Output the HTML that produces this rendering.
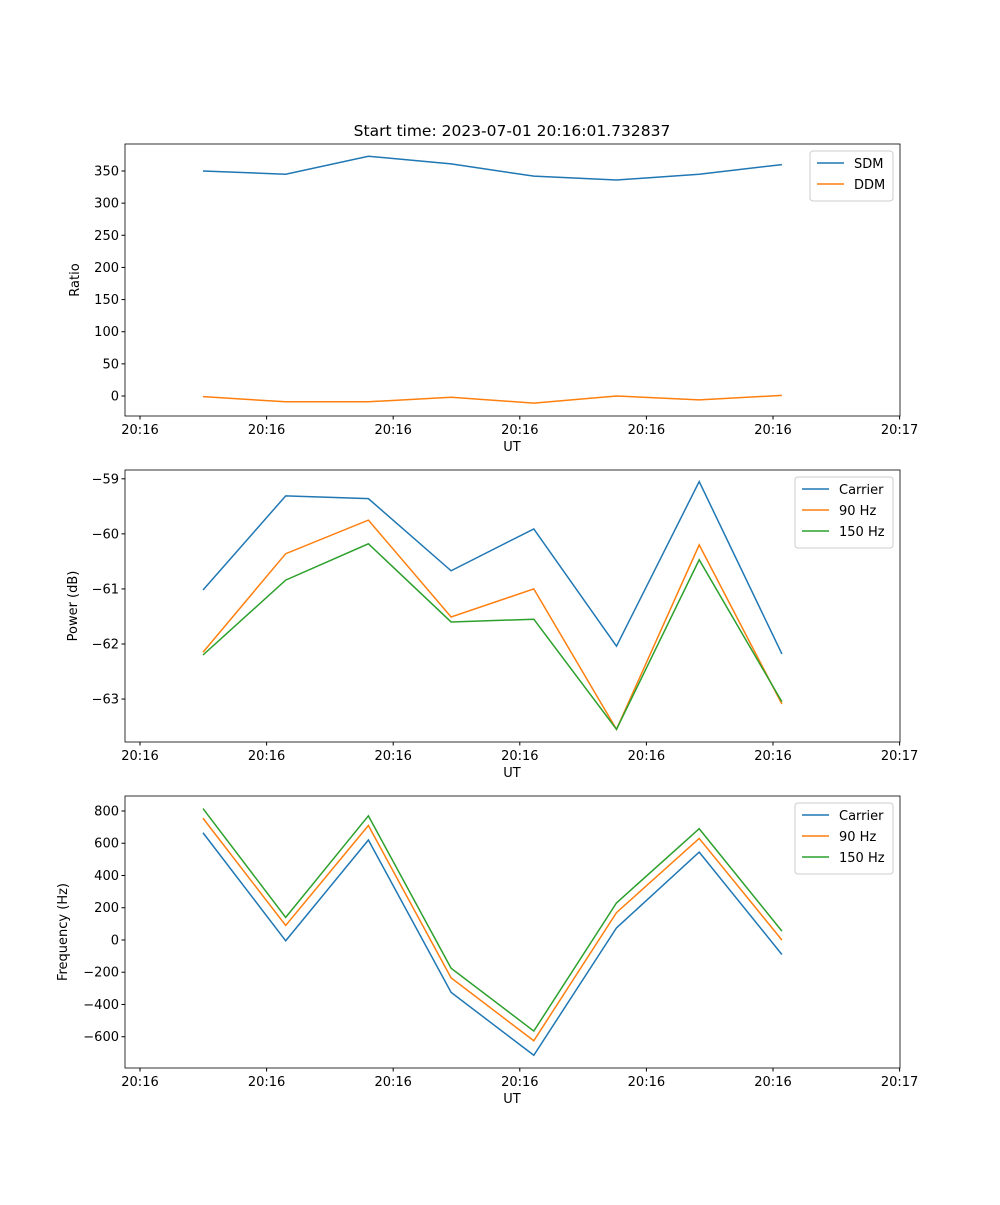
<!DOCTYPE html>
<html><head><meta charset="utf-8"><style>
body{margin:0;background:#fff;font-family:"Liberation Sans","DejaVu Sans",sans-serif}
svg text{font-family:"DejaVu Sans","Liberation Sans",sans-serif;font-size:13px;fill:#000}
</style></head><body>
<svg id="chart" width="1000" height="1200" xmlns="http://www.w3.org/2000/svg"></svg>
<script>
const xTickLabels=["20:16","20:16","20:16","20:16","20:16","20:16","20:17"];
const sampleIdx=[0,1,2,3,4,5,6,7];
const sdm=[350,345,373,361,342,336,345,360];
const ddm=[-1,-9,-9,-2,-11,0,-6,1];
const pCarrier=[-61.02,-59.31,-59.36,-60.67,-59.91,-62.04,-59.05,-62.18];
const p90=[-62.15,-60.36,-59.75,-61.51,-61.0,-63.55,-60.2,-63.09];
const p150=[-62.2,-60.84,-60.18,-61.6,-61.55,-63.55,-60.47,-63.05];
const fCarrier=[665,-5,620,-325,-715,75,545,-90];
const f90=[755,90,710,-235,-625,170,630,0];
const f150=[815,140,770,-175,-565,230,690,55];
const ticks1=[0,50,100,150,200,250,300,350];
const ticks2=[-63,-62,-61,-60,-59];
const ticks3=[-600,-400,-200,0,200,400,600,800];
const C=["#1f77b4","#ff7f0e","#2ca02c"];
const svg=document.getElementById('chart');
const NS="http://www.w3.org/2000/svg";
function el(t,a,p){const e=document.createElementNS(NS,t);for(const k in a)e.setAttribute(k,a[k]);(p||svg).appendChild(e);return e;}
// x: sample i -> pixel; tick positions spaced evenly
const xL=125,xR=900;
function xs(i){return 203+i*82.7;}
function xt(j){return 140+j*126.6;}
function panel(name,top,bot,ymin,ymax,yticks,fmt,ylabel,series,names,title){
  const g=el('g',{});
  
  
  const ys=v=>bot-(v-ymin)/(ymax-ymin)*(bot-top);
  series.forEach((s,k)=>{
    const pl=el('polyline',{points:s.map((v,i)=>xs(sampleIdx[i])+','+ys(v)).join(' '),fill:'none',stroke:C[k],'stroke-width':1.5},g);
    
    
  });
  el('rect',{x:xL,y:top,width:xR-xL,height:bot-top,fill:'none',stroke:'#000','stroke-width':0.8},g);
  xTickLabels.forEach((l,j)=>{const x=xt(j);el('line',{x1:x,x2:x,y1:bot,y2:bot+3.5,stroke:'#000'},g);
    const t=el('text',{x:x,y:bot+18,'text-anchor':'middle'},g);t.textContent=l;});
  yticks.forEach(v=>{const y=ys(v);el('line',{x1:xL-3.5,x2:xL,y1:y,y2:y,stroke:'#000'},g);
    const t=el('text',{x:xL-6,y:y+4.5,'text-anchor':'end'},g);t.textContent=fmt(v);});
  const xl=el('text',{x:512,y:bot+35,'text-anchor':'middle'},g);xl.textContent='UT';
  
  const cy=(top+bot)/2, lx=name==='frequency'?67:name==='power'?77:79;
  const yl=el('text',{x:lx,y:cy,'text-anchor':'middle',transform:`rotate(-90 ${lx} ${cy})`},g);yl.textContent=ylabel;
  
  if(title){const tt=el('text',{x:512,y:top-8,'text-anchor':'middle',style:'font-size:15.5px'},g);tt.textContent=title;
    }
  const lw=names.length===2?83:98, lx0=xR-7-lw;
  const lg=el('g',{},g);
  el('rect',{x:lx0,y:top+7,width:lw,height:names.length*21+8,fill:'#fff',stroke:'#ccc',rx:3},lg);
  names.forEach((n,k)=>{const y=top+19+k*21;
    el('line',{x1:lx0+7,x2:lx0+34,y1:y,y2:y,stroke:C[k],'stroke-width':1.5},lg);
    const t=el('text',{x:lx0+44,y:y+5},lg);t.textContent=n;
    });
}
panel('ratio',144,416,-31.1,392,ticks1,v=>String(v),'Ratio',[sdm,ddm],['SDM','DDM'],'Start time: 2023-07-01 20:16:01.732837');
panel('power',470,742,-63.78,-58.84,ticks2,v=>'\u2212'+Math.abs(v),'Power (dB)',[pCarrier,p90,p150],['Carrier','90 Hz','150 Hz']);
panel('frequency',796,1068,-794,893,ticks3,v=>v<0?'\u2212'+Math.abs(v):String(v),'Frequency (Hz)',[fCarrier,f90,f150],['Carrier','90 Hz','150 Hz']);
</script>
</body></html>
